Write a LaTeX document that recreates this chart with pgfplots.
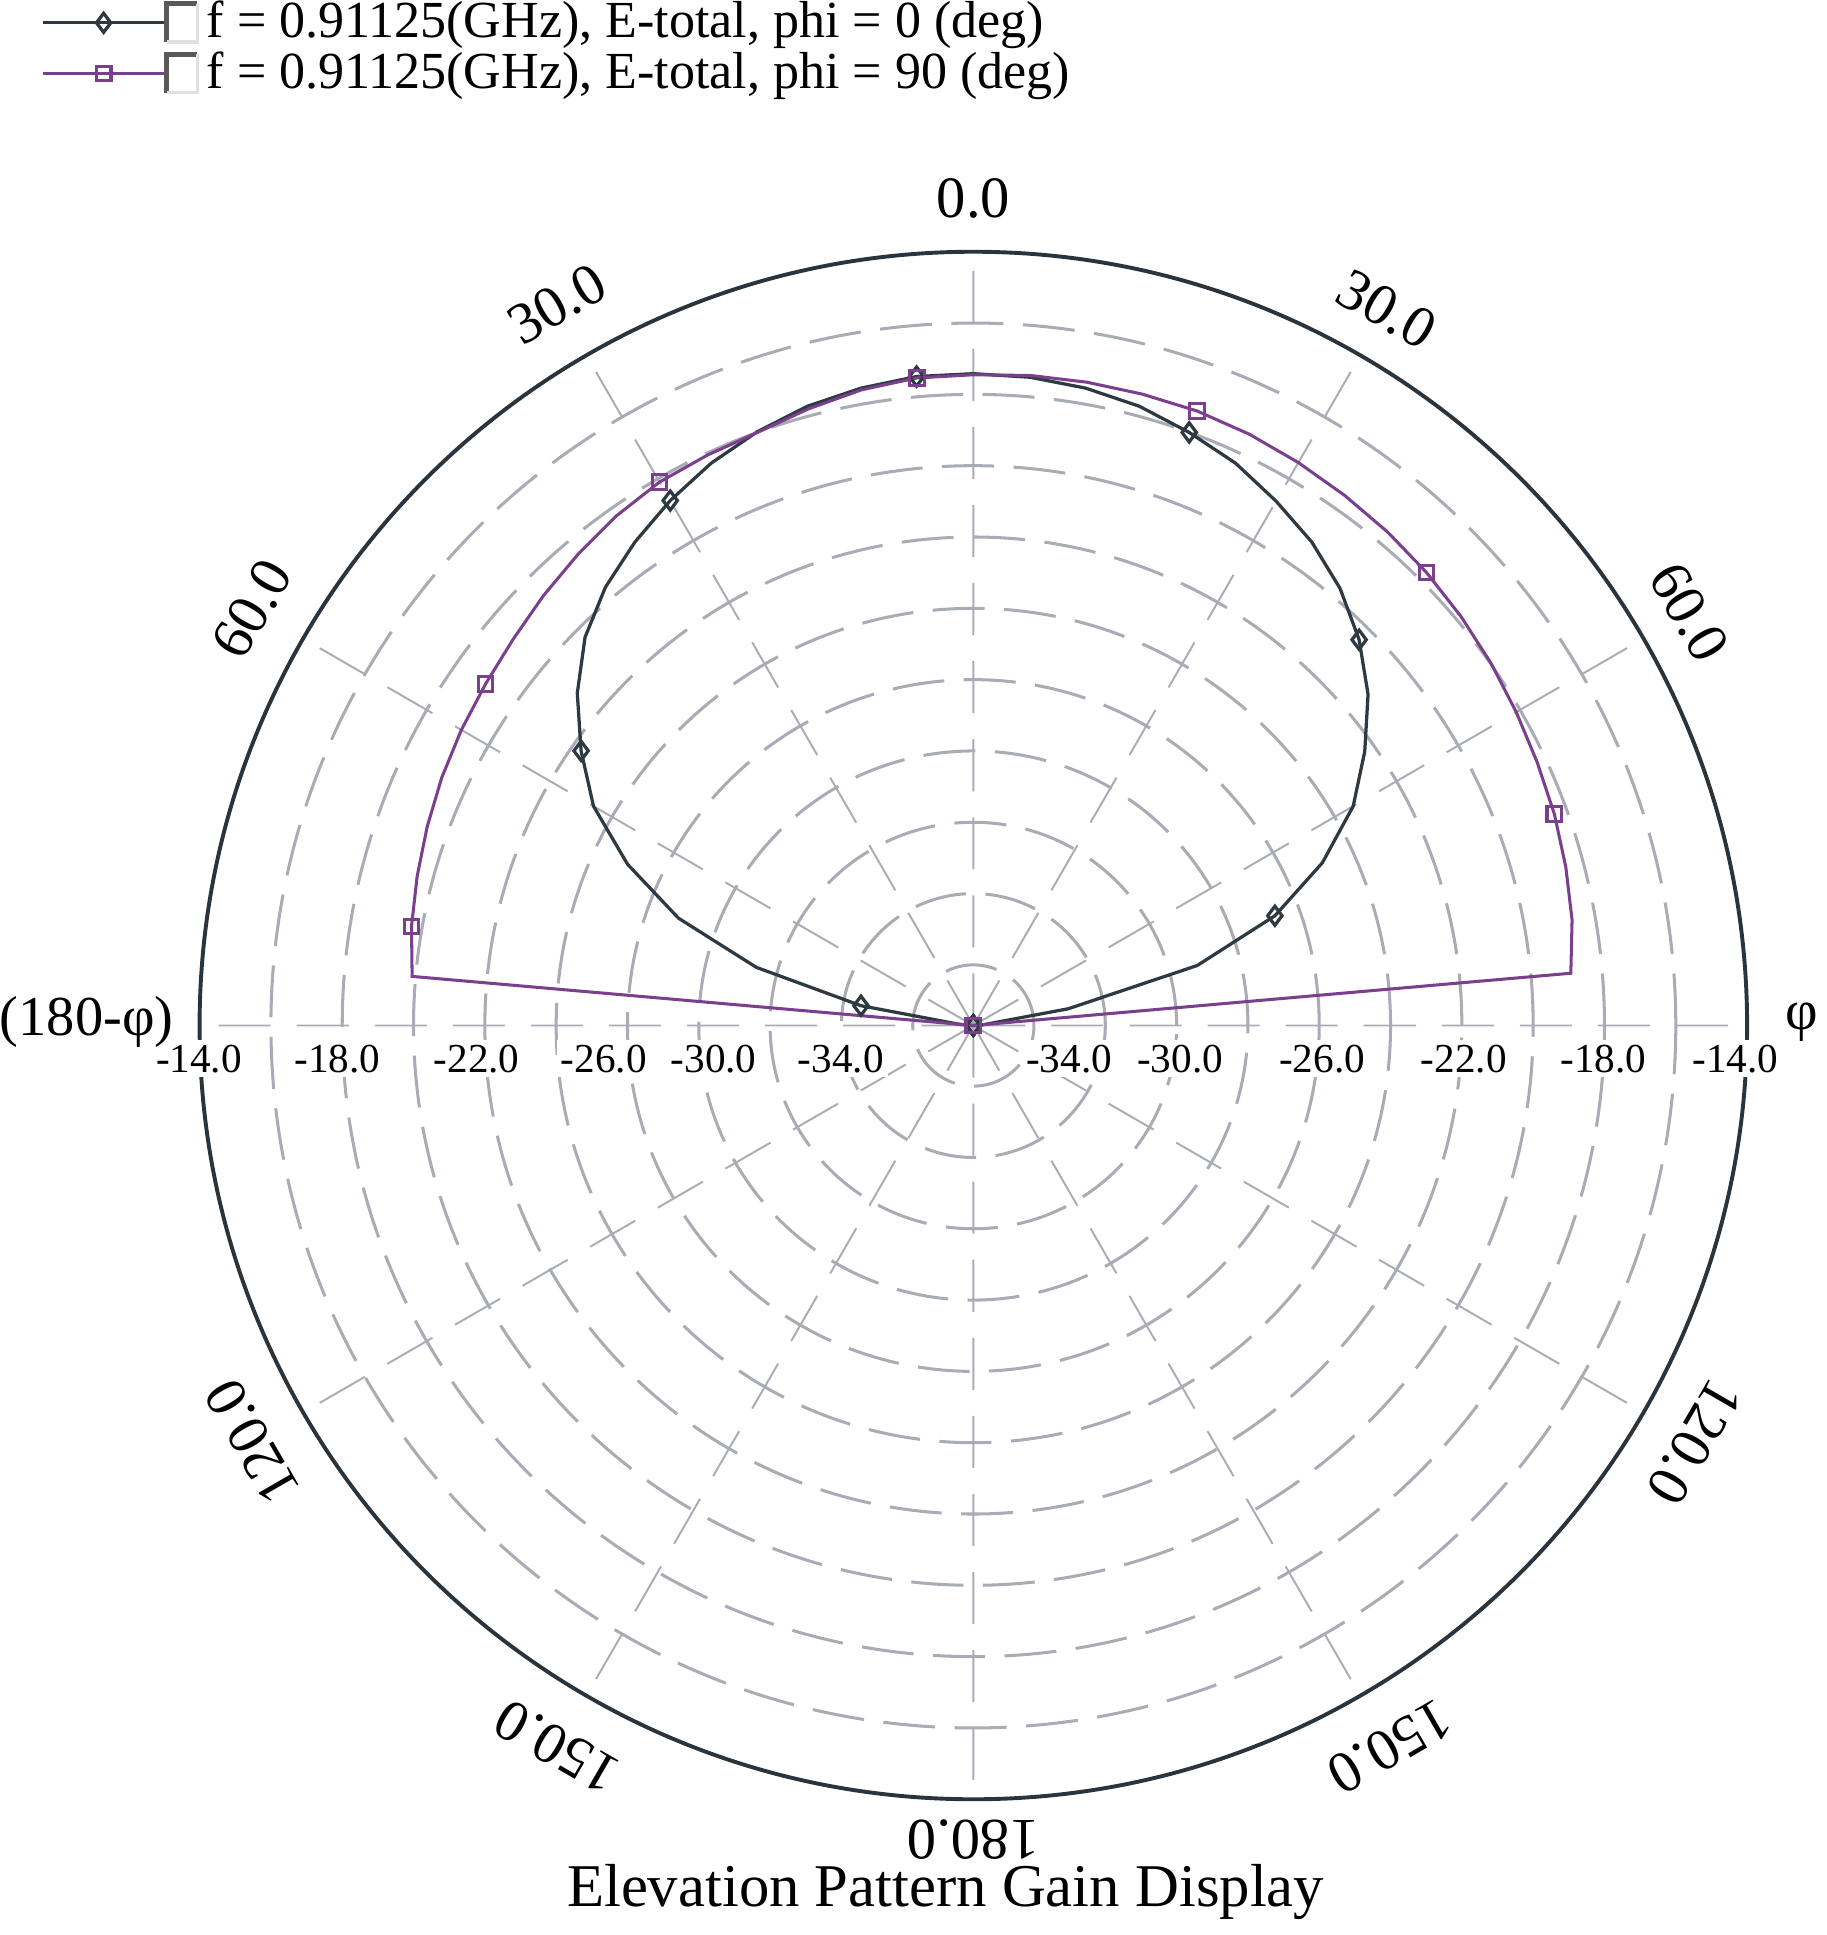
\documentclass[border=0pt]{standalone}
\usepackage{fontspec}
\setmainfont{Liberation Serif}
\usepackage{pgfplots}
\usepackage{pgfplotstable}
\pgfplotsset{compat=1.18}
\usepgfplotslibrary{polar}

\definecolor{phizero}{HTML}{2D3A42}
\definecolor{phininety}{HTML}{7B3F8E}
\definecolor{gridgray}{HTML}{A9ACB4}
\definecolor{rimcol}{HTML}{2A343C}

% theta (deg, + to the right of 0.0), gain (dB); -40 = below the -35.7 dB centre
\pgfplotstableread{
t g
-180 -40
-175 -40
-170 -40
-165 -40
-160 -40
-155 -40
-150 -40
-145 -40
-140 -40
-135 -40
-130 -40
-125 -40
-120 -40
-115 -40
-110 -40
-105 -40
-100 -40
-95 -40
-90 -40
-85 -35.3
-80 -32.5
-75 -29.4
-70 -26.9
-65 -25.0
-60 -23.4
-55 -22.27
-50 -21.2
-45 -20.3
-40 -19.65
-35 -19.15
-30 -18.7
-25 -18.3
-20 -17.98
-15 -17.72
-10 -17.55
-5 -17.43
0 -17.42
5 -17.45
10 -17.55
15 -17.72
20 -18.0
25 -18.3
30 -18.72
35 -19.15
40 -19.7
45 -20.4
50 -21.25
55 -22.3
60 -23.4
65 -24.9
70 -26.7
75 -29.2
80 -33.0
85 -35.4
90 -40
95 -40
100 -40
105 -40
110 -40
115 -40
120 -40
125 -40
130 -40
135 -40
140 -40
145 -40
150 -40
155 -40
160 -40
165 -40
170 -40
175 -40
180 -40
}\tabzero

\pgfplotstableread{
t g
-180 -40
-175 -40
-170 -40
-165 -40
-160 -40
-155 -40
-150 -40
-145 -40
-140 -40
-135 -40
-130 -40
-125 -40
-120 -40
-115 -40
-110 -40
-105 -40
-100 -40
-95 -40
-90 -40
-85 -19.9
-80 -19.7
-75 -19.55
-70 -19.4
-65 -19.25
-60 -19.12
-55 -19.0
-50 -18.85
-45 -18.65
-40 -18.45
-35 -18.25
-30 -18.1
-25 -18.05
-20 -18.0
-15 -17.8
-10 -17.6
-5 -17.47
0 -17.45
5 -17.4
10 -17.38
15 -17.37
20 -17.36
25 -17.4
30 -17.47
35 -17.55
40 -17.63
45 -17.73
50 -17.85
55 -17.98
60 -18.12
65 -18.25
70 -18.36
75 -18.5
80 -18.65
85 -18.88
90 -40
95 -40
100 -40
105 -40
110 -40
115 -40
120 -40
125 -40
130 -40
135 -40
140 -40
145 -40
150 -40
155 -40
160 -40
165 -40
170 -40
175 -40
180 -40
}\tabninety

\begin{document}
\begin{tikzpicture}
\path (-7.875,-7.37) rectangle (6.915,8.31);
\begin{polaraxis}[
  at={(0,0)}, anchor=center,
  scale only axis, width=12.54cm, height=12.54cm,
  ymin=0, ymax=21.7,
  xtick={0,30,...,330}, xticklabels={},
  ytick={1.7,3.7,5.7,7.7,9.7,11.7,13.7,15.7,17.7,19.7}, yticklabels={},
  major tick length=0pt,
  xmajorgrids, ymajorgrids,
  y grid style={color=gridgray, line width=0.7pt, dash pattern=on 12pt off 4.5pt},
  x grid style={color=gridgray, line width=0.45pt, dash pattern=on 12pt off 6pt},
  x axis line style={color=rimcol, line width=0.9pt},
  y axis line style={draw=none},
  legend style={at={(-0.1027,1.1627)}, anchor=north west, draw=none, fill=none,
    inner sep=0pt, row sep=1.6pt,
    nodes={inner xsep=1.5pt, inner ysep=0pt, anchor=west},
    font=\fontsize{12}{14}\selectfont},
  legend cell align=left,
  legend image code/.code={
    \draw[mark repeat=2,mark phase=2] plot coordinates {(0cm,0cm) (0.49cm,0cm) (0.98cm,0cm)};
    \draw[black!65, line width=1.3pt, solid] (1.0cm,-0.155cm) -- (1.0cm,0.155cm) -- (1.25cm,0.155cm);
    \draw[black!12, line width=0.8pt, solid] (1.25cm,0.155cm) -- (1.25cm,-0.155cm) -- (1.0cm,-0.155cm);
  },
]
\addplot[color=phizero, line width=0.75pt, mark=diamond, mark size=2.2pt,
  mark options={fill=white}, mark repeat=5, mark phase=1]
  table[x expr={90-\thisrow{t}}, y expr={max(\thisrow{g}+35.7,0)}] {\tabzero};
\addlegendentry{f = 0.91125(GHz), E-total, phi = 0 (deg)}
\addplot[color=phininety, line width=0.7pt, mark=square, mark size=1.7pt,
  mark options={fill=white}, mark repeat=5, mark phase=1]
  table[x expr={90-\thisrow{t}}, y expr={max(\thisrow{g}+35.7,0)}] {\tabninety};
\addlegendentry{f = 0.91125(GHz), E-total, phi = 90 (deg)}
\end{polaraxis}

\foreach \a/\r/\l in {90/6.7/0.0, 120/6.75/30.0, 60/6.7/30.0, 150/6.75/60.0, 30/6.7/60.0,
  210/6.75/120.0, 330/6.75/120.0, 240/6.75/150.0, 300/6.75/150.0, 270/6.6/180.0}
  \node[font=\fontsize{13.5}{16}\selectfont, rotate=\a-90] at (\a:\r cm) {\l};

\foreach \x/\l in {0.775/-34.0, 1.675/-30.0, 2.825/-26.0, 3.975/-22.0, 5.105/-18.0, 6.175/-14.0,
  -1.075/-34.0, -2.105/-30.0, -2.995/-26.0, -4.025/-22.0, -5.155/-18.0, -6.275/-14.0}
  \node[font=\fontsize{9.5}{11}\selectfont, fill=white, inner sep=1pt] at (\x,-0.27) {\l};

\node[font=\fontsize{13}{15}\selectfont, inner sep=0pt, anchor=west] at (6.57,0.03) {φ};
\node[font=\fontsize{13}{15}\selectfont, inner sep=0pt, anchor=east] at (-6.475,0.03) {(180-φ)};
\node[font=\fontsize{14}{16}\selectfont, inner sep=0pt] at (-0.225,-7.02) {Elevation Pattern Gain Display};
\end{tikzpicture}
\end{document}
